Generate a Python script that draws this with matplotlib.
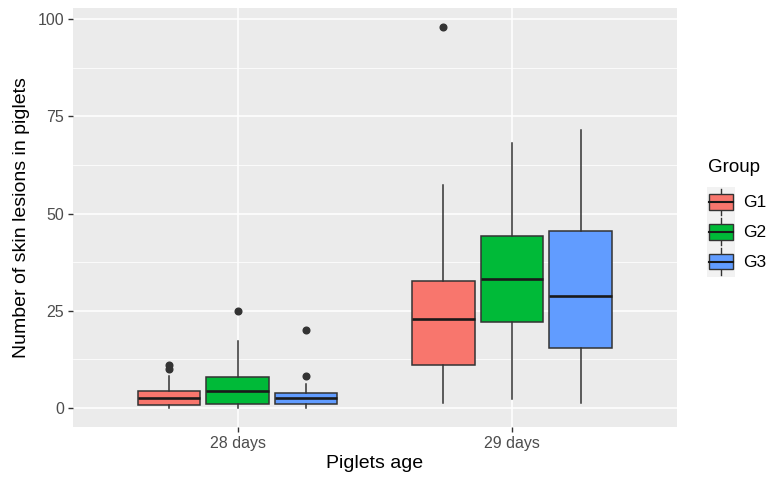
import matplotlib
matplotlib.use("Agg")
import matplotlib.pyplot as plt
from matplotlib.legend_handler import HandlerBase
from matplotlib.patches import Rectangle
from matplotlib.lines import Line2D

plt.rcParams['font.family'] = ['Liberation Sans', 'DejaVu Sans']

ages = ["28 days", "29 days"]
groups = ["G1", "G2", "G3"]
colors = ["#F8766D", "#00BA38", "#619CFF"]

# box stats, [28 days, 29 days] for each group
q1 = {"G1": [0.6, 11.0], "G2": [1.0, 22.0], "G3": [1.0, 15.5]}
med = {"G1": [2.4, 22.9], "G2": [4.4, 33.2], "G3": [2.4, 28.9]}
q3 = {"G1": [4.2, 32.7], "G2": [7.9, 44.1], "G3": [3.8, 45.5]}
whislo = {"G1": [0.0, 1.2], "G2": [0.0, 2.3], "G3": [0.0, 1.2]}
whishi = {"G1": [8.3, 57.3], "G2": [17.3, 68.2], "G3": [6.2, 71.4]}
fliers = {"G1": [[10.0, 11.0], [98.0]], "G2": [[25.0], []], "G3": [[8.2, 19.9], []]}

fig = plt.figure(figsize=(7.68, 4.79), dpi=100)
ax = fig.add_axes([0.095, 0.109, 0.786, 0.874])
ax.set_facecolor("#EBEBEB")

offsets = [-0.25, 0.0, 0.25]
for gi, g in enumerate(groups):
    stats = []
    for ai in range(len(ages)):
        stats.append(dict(q1=q1[g][ai], med=med[g][ai], q3=q3[g][ai],
                          whislo=whislo[g][ai], whishi=whishi[g][ai],
                          fliers=fliers[g][ai]))
    pos = [i + 1 + offsets[gi] for i in range(len(ages))]
    ax.bxp(stats, positions=pos, widths=0.228, patch_artist=True,
           showcaps=False,
           boxprops=dict(facecolor=colors[gi], edgecolor="#333333", linewidth=1.1),
           medianprops=dict(color="#1a1a1a", linewidth=1.9),
           whiskerprops=dict(color="#333333", linewidth=1.1),
           flierprops=dict(marker="o", markerfacecolor="#333333",
                           markeredgecolor="#333333", markersize=4.8),
           zorder=3)

ax.set_xlim(0.4, 2.6)
ax.set_ylim(-4.9, 102.9)
ax.set_xticks([1, 2])
ax.set_xticklabels(ages)
ax.set_yticks([0, 25, 50, 75, 100])
ax.set_yticks([12.5, 37.5, 62.5, 87.5], minor=True)
ax.grid(which="major", color="white", linewidth=1.1, zorder=0)
ax.grid(which="minor", axis="y", color="white", linewidth=0.55, zorder=0)
ax.set_axisbelow(True)
for s in ax.spines.values():
    s.set_visible(False)
ax.tick_params(axis="both", which="major", colors="#333333", length=3.5,
               width=1, labelsize=11.5, labelcolor="#4D4D4D", pad=3)
ax.tick_params(axis="both", which="minor", length=0)
ax.set_xlabel("Piglets age", fontsize=14, color="black", labelpad=3)
ax.set_ylabel("Number of skin lesions in piglets", fontsize=14, color="black", labelpad=5)


# legend key drawn like a small boxplot, as ggplot does
class BoxKey(HandlerBase):
    def create_artists(self, legend, orig_handle, xd, yd, width, height, fontsize, trans):
        x_left, y_bot = -xd, -yd
        bg = Rectangle((x_left, y_bot), width, height, facecolor="#F2F2F2",
                       edgecolor="none", transform=trans)
        bw = width * 0.88
        bh = height * 0.52
        x0 = x_left + (width - bw) / 2
        y0 = y_bot + (height - bh) / 2
        box = Rectangle((x0, y0), bw, bh,
                        facecolor=orig_handle.get_facecolor(), edgecolor="#333333",
                        linewidth=1.0, transform=trans)
        cx = x_left + width / 2
        m = Line2D([x0, x0 + bw], [y_bot + height / 2] * 2, color="#1a1a1a", lw=1.5, transform=trans)
        w1 = Line2D([cx, cx], [y_bot + height * 0.05, y0], color="#333333", lw=1.0, transform=trans)
        w2 = Line2D([cx, cx], [y0 + bh, y_bot + height * 0.95], color="#333333", lw=1.0, transform=trans)
        return [bg, w1, w2, box, m]


handles = [Rectangle((0, 0), 1, 1, facecolor=c) for c in colors]
leg = fig.legend(handles, groups, loc="center left",
                 bbox_to_anchor=(0.905, 0.516), frameon=False, fontsize=12.5,
                 handler_map={Rectangle: BoxKey()},
                 handlelength=1.6, handleheight=2.27, labelspacing=0.0,
                 handletextpad=0.45, borderpad=0.2)
fig.text(0.922, 0.651, "Group", fontsize=13.5, ha="left", va="center")

fig.savefig("out.png", dpi=100)
